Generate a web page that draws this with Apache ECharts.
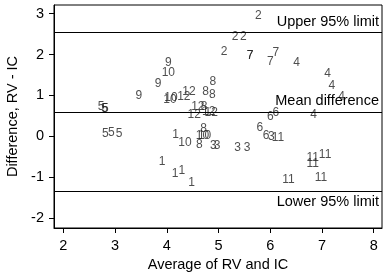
<!DOCTYPE html>
<html>
<head>
<meta charset="utf-8">
<script src="https://cdn.jsdelivr.net/npm/echarts@6/dist/echarts.min.js"></script>
<style>
  html, body { margin: 0; padding: 0; background: #fff; }
  #chart { width: 385px; height: 272px; }
</style>
</head>
<body>
<div id="chart"></div>
<script>
// subject ids, used as the plotting symbol
const ids = [1, 1, 1, 1, 1,
  2, 2, 2, 2,
  3, 3, 3, 3, 3,
  4, 4, 4, 4, 4,
  5, 5, 5, 5, 5, 5,
  6, 6, 6, 6,
  7, 7, 7, 7,
  8, 8, 8, 8, 8, 8,
  9, 9, 9,
  10, 10, 10, 10, 10, 10,
  11, 11, 11, 11, 11, 11,
  12, 12, 12, 12, 12, 12];
// average of RV and IC
const avgVals = [4.17, 3.91, 4.16, 4.29, 4.48,
  5.77, 5.32, 5.48, 5.11,
  4.90, 4.97, 5.37, 5.55, 6.02,
  6.51, 7.11, 7.19, 7.38, 6.84,
  2.73, 2.80, 2.81, 2.81, 2.93, 3.08,
  6.11, 6.00, 5.80, 5.92,
  5.61, 5.61, 6.11, 6.00,
  4.89, 4.75, 4.88, 4.72, 4.71, 4.63,
  4.03, 3.83, 3.46,
  4.03, 4.08, 4.06, 4.35, 4.69, 4.73,
  6.15, 6.35, 6.82, 7.06, 6.82, 6.98,
  4.43, 4.33, 4.60, 4.53, 4.81, 4.86];
// difference RV - IC
const diffVals = [0.05, -0.61, -0.91, -0.83, -1.14,
  2.96, 2.43, 2.43, 2.08,
  -0.24, -0.22, -0.28, -0.28, -0.02,
  1.79, 1.52, 1.23, 0.96, 0.53,
  0.73, 0.68, 0.68, 0.07, 0.10, 0.07,
  0.57, 0.49, 0.21, 0.01,
  1.96, 1.96, 2.05, 1.83,
  1.34, 1.08, 1.02, 0.73, 0.19, -0.20,
  1.79, 1.29, 0.99,
  1.56, 0.95, 0.90, -0.15, 0.01, 0.02,
  -0.03, -1.06, -0.51, -0.45, -0.68, -1.02,
  1.08, 0.97, 0.72, 0.53, 0.60, 0.57];

const meanDiff = 0.6;
const upperLimit = 2.54;
const lowerLimit = -1.34;

const xTicks = [2, 3, 4, 5, 6, 7, 8];
const yTicks = [-2, -1, 0, 1, 2, 3];

const font = 'Liberation Sans';
const chart = echarts.init(document.getElementById('chart'), null, { renderer: 'canvas' });

const points = avgVals.map((x, i) => [x, diffVals[i], ids[i]]);

const option = {
  animation: false,
  textStyle: { fontFamily: font },
  grid: {
    left: 54, right: 3, top: 5, bottom: 44,
    outerBoundsMode: 'none',
    containLabel: false,
    show: true, borderColor: '#000', borderWidth: 1
  },
  xAxis: {
    type: 'value',
    min: 1.82, max: 8.16,
    name: 'Average of RV and IC',
    nameLocation: 'middle',
    nameGap: 24,
    nameTextStyle: { fontSize: 14.5, color: '#000', fontFamily: font },
    splitLine: { show: false },
    axisLine: { show: true, onZero: false, lineStyle: { color: '#000' } },
    axisTick: { show: true, length: 5, lineStyle: { color: '#000' }, customValues: xTicks },
    axisLabel: { fontSize: 14.5, color: '#000', margin: 10, customValues: xTicks }
  },
  yAxis: {
    type: 'value',
    min: -2.24, max: 3.21,
    name: 'Difference, RV - IC',
    nameLocation: 'middle',
    nameGap: 27,
    nameTextStyle: { fontSize: 14.5, color: '#000', fontFamily: font },
    splitLine: { show: false },
    axisLine: { show: true, onZero: false, lineStyle: { color: '#000' } },
    axisTick: { show: true, length: 5, lineStyle: { color: '#000' }, customValues: yTicks },
    axisLabel: { fontSize: 14.5, color: '#000', margin: 10, customValues: yTicks }
  },
  series: [{
    type: 'scatter',
    data: points,
    symbolSize: 1,
    itemStyle: { color: 'rgba(0,0,0,0)' },
    label: {
      show: true,
      position: 'inside',
      formatter: p => String(p.value[2]),
      fontSize: 12,
      color: '#222',
      fontFamily: font
    },
    emphasis: { disabled: true },
    markLine: {
      silent: true,
      symbol: 'none',
      lineStyle: { color: '#000', width: 1, type: 'solid' },
      label: { fontSize: 14.5, color: '#000', fontFamily: font, distance: [3, 3] },
      data: [
        { yAxis: upperLimit, label: { formatter: 'Upper 95% limit', position: 'insideEndTop' } },
        { yAxis: meanDiff, label: { formatter: 'Mean difference', position: 'insideEndTop' } },
        { yAxis: lowerLimit, label: { formatter: 'Lower 95% limit', position: 'insideEndBottom' } }
      ]
    }
  }]
};
chart.setOption(option);
</script>
</body>
</html>
